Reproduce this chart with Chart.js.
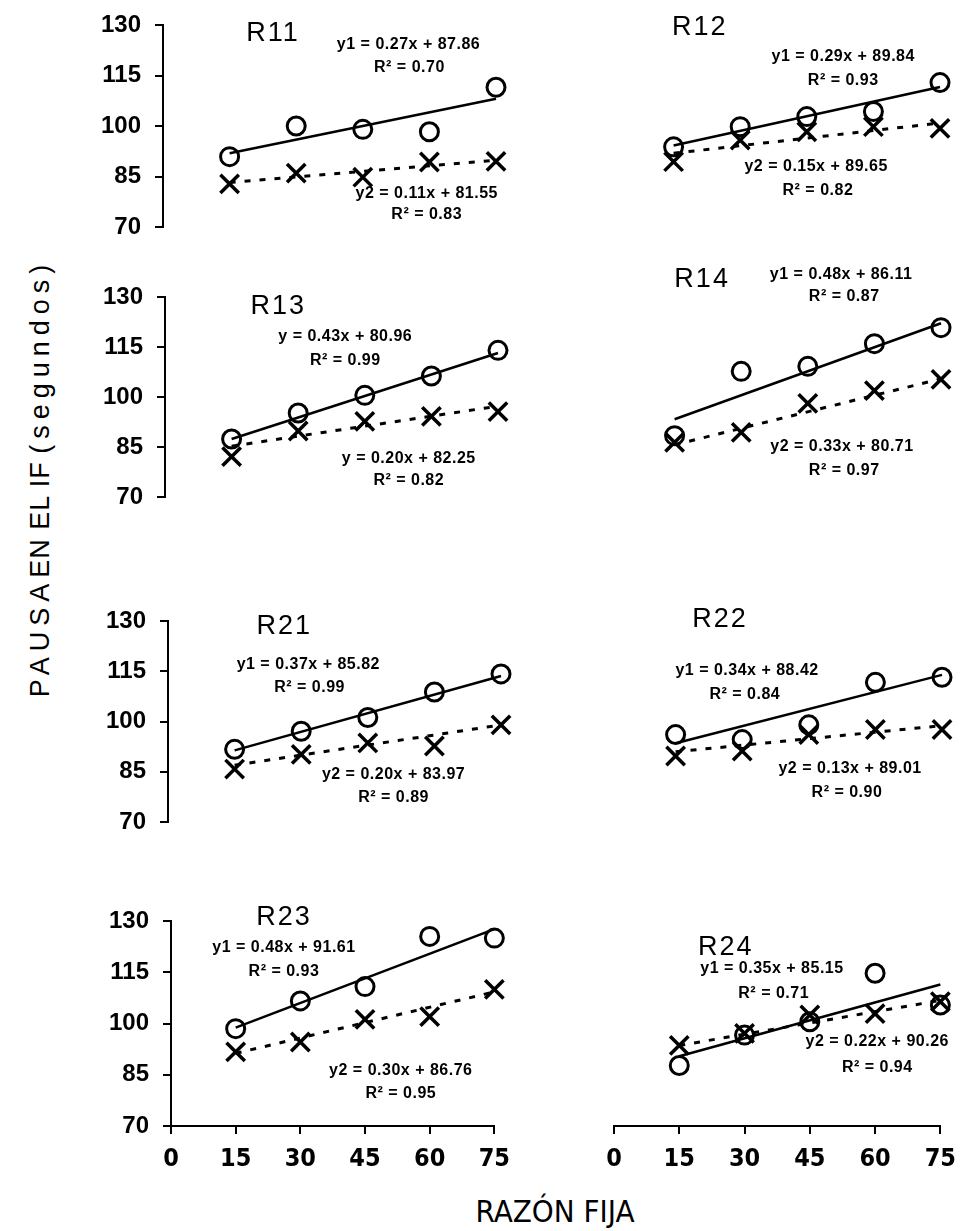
<!DOCTYPE html>
<html>
<head>
<meta charset="utf-8">
<script src="https://cdn.jsdelivr.net/npm/chart.js@4.4.1/dist/chart.umd.min.js"></script>
<style>
  body { margin: 0; background: #fff; }
  #page { position: relative; width: 966px; height: 1231px; overflow: hidden; background: #fff; }
  #page canvas { position: absolute; }
  #ytitle {
    position: absolute; left: 40px; top: 478px;
    transform: translate(-50%, -50%) rotate(-90deg);
    white-space: nowrap; font: 27px "Liberation Sans", Arial, sans-serif; color: #000;
  }
  #ytitle .wide { letter-spacing: 6px; }
  #ytitle .mid { letter-spacing: 1px; }
  #xtitle {
    position: absolute; left: 555px; top: 1193px; transform: translateX(-50%);
    white-space: nowrap; font: 31px "Liberation Sans Narrow", "DejaVu Sans Condensed", Arial, sans-serif; color: #000;
  }
</style>
</head>
<body>
<div id="page">
  <div id="ytitle"><span class="wide">PAUSA</span><span class="mid">EN EL IF</span> <span class="wide">(segundos)</span></div>
  <div id="xtitle">RAZÓN FIJA</div>
</div>
<script>
// Data
const xValues = [15, 30, 45, 60, 75];
const xTicks = [0, 15, 30, 45, 60, 75];
const yTicks = [70, 85, 100, 115, 130];
const panelNames = ['R11', 'R12', 'R13', 'R14', 'R21', 'R22', 'R23', 'R24'];

// circles = series 1, crosses = series 2
const r11Circles = [90.9, 100.0, 99.0, 98.3, 111.5];
const r11Crosses = [82.8, 86.0, 84.8, 89.3, 89.5];
const r12Circles = [93.8, 99.8, 102.8, 104.3, 112.9];
const r12Crosses = [89.4, 95.8, 98.3, 99.8, 99.3];
const r13Circles = [87.4, 95.2, 100.5, 106.3, 114.0];
const r13Crosses = [82.1, 89.8, 92.7, 94.2, 95.6];
const r14Circles = [88.4, 107.7, 109.2, 116.0, 120.8];
const r14Crosses = [86.4, 89.4, 98.1, 101.9, 105.3];
const r21Circles = [91.7, 97.1, 101.2, 108.8, 114.2];
const r21Crosses = [85.8, 90.2, 93.6, 92.7, 99.0];
const r22Circles = [96.1, 94.6, 99.0, 111.7, 113.2];
const r22Crosses = [89.7, 91.2, 96.1, 97.6, 97.6];
const r23Circles = [98.5, 106.6, 110.8, 125.5, 125.0];
const r23Crosses = [91.7, 94.6, 101.2, 102.0, 110.0];
const r24Circles = [87.7, 96.6, 100.5, 114.7, 105.4];
const r24Crosses = [93.6, 97.1, 102.5, 102.9, 106.4];

const circleSeries = [r11Circles, r12Circles, r13Circles, r14Circles, r21Circles, r22Circles, r23Circles, r24Circles];
const crossSeries = [r11Crosses, r12Crosses, r13Crosses, r14Crosses, r21Crosses, r22Crosses, r23Crosses, r24Crosses];

// fitted lines printed on each panel
const y1Name = ['y1', 'y1', 'y', 'y1', 'y1', 'y1', 'y1', 'y1'];
const y1Slope = [0.27, 0.29, 0.43, 0.48, 0.37, 0.34, 0.48, 0.35];
const y1Intercept = [87.86, 89.84, 80.96, 86.11, 85.82, 88.42, 91.61, 85.15];
const y1R2 = ['0.70', '0.93', '0.99', '0.87', '0.99', '0.84', '0.93', '0.71'];
const y2Name = ['y2', 'y2', 'y', 'y2', 'y2', 'y2', 'y2', 'y2'];
const y2Slope = [0.11, 0.15, 0.20, 0.33, 0.20, 0.13, 0.30, 0.22];
const y2Intercept = [81.55, 89.65, 82.25, 80.71, 83.97, 89.01, 86.76, 90.26];
const y2R2 = ['0.83', '0.82', '0.82', '0.97', '0.89', '0.90', '0.95', '0.94'];

// Layout (pixels) -----------------------------------------------------
const rowTop = [25, 297, 621, 921];      // pixel of 130
const rowBottom = [227, 497, 822, 1126]; // pixel of 70
const leftAxisX = [163, 165, 168, 171];
const rightAxisX = [607, 608, 609, 614];
const plotWidth = 333;

// where the texts sit, in data units of each panel
const labelPos = [
  { title: [24.8, 127.6], eq1: [55.3, 124.1], r1: [55.5, 117.2], eq2: [59.4, 80.0], r2: [59.4, 73.6] },
  { title: [20.9, 129.1], eq1: [53.2, 120.6], r1: [53.2, 113.6], eq2: [47.1, 87.9], r2: [47.5, 80.8] },
  { title: [25.5, 127.1], eq1: [40.6, 118.0], r1: [40.6, 111.0], eq2: [54.9, 81.6], r2: [54.9, 74.8] },
  { title: [21.2, 135.3], eq1: [52.5, 136.8], r1: [53.2, 130.0], eq2: [52.7, 85.0], r2: [53.2, 77.9] },
  { title: [26.2, 128.4], eq1: [31.6, 117.1], r1: [31.9, 110.0], eq2: [50.8, 84.3], r2: [50.8, 77.3] },
  { title: [25.0, 130.3], eq1: [31.1, 115.2], r1: [30.6, 108.0], eq2: [54.3, 85.8], r2: [53.6, 78.9] },
  { title: [26.2, 130.9], eq1: [26.2, 122.1], r1: [26.2, 115.2], eq2: [53.3, 86.3], r2: [53.3, 79.4] },
  { title: [25.7, 122.1], eq1: [36.3, 116.2], r1: [36.7, 108.8], eq2: [60.5, 94.6], r2: [60.5, 87.0] },
];

const sans = '"Liberation Sans", Arial, sans-serif';
const narrow = '"Liberation Sans Narrow", "DejaVu Sans Condensed", Arial, sans-serif';

const textPlugin = {
  id: 'panelText',
  afterDatasetsDraw(chart, args, opts) {
    const { ctx, scales } = chart;
    ctx.save();
    ctx.fillStyle = '#000';
    ctx.textAlign = 'center';
    ctx.textBaseline = 'middle';
    opts.items.forEach(it => {
      ctx.font = it.font;
      ctx.letterSpacing = it.spacing || '0px';
      ctx.fillText(it.text, scales.x.getPixelForValue(it.pos[0]), scales.y.getPixelForValue(it.pos[1]));
    });
    ctx.restore();
  }
};

const page = document.getElementById('page');
const padTop = 40, padBottom = 40, xAxisHeight = 62;

panelNames.forEach((name, i) => {
  const row = Math.floor(i / 2);
  const isLeft = i % 2 === 0;
  const isBottom = row === 3;

  const canvasLeft = isLeft ? 0 : 560;
  const canvasWidth = isLeft ? 520 : 406;
  const areaLeft = isLeft ? leftAxisX[row] : rightAxisX[row];
  const padRight = canvasLeft + canvasWidth - (areaLeft + plotWidth);
  const canvasTop = rowTop[row] - padTop;
  const canvasHeight = (rowBottom[row] - rowTop[row]) + padTop + (isBottom ? xAxisHeight : padBottom);

  const canvas = document.createElement('canvas');
  canvas.width = canvasWidth;
  canvas.height = canvasHeight;
  canvas.style.left = canvasLeft + 'px';
  canvas.style.top = canvasTop + 'px';
  page.appendChild(canvas);

  const fit1 = [15, 75].map(x => ({ x, y: y1Slope[i] * x + y1Intercept[i] }));
  const fit2 = [15, 75].map(x => ({ x, y: y2Slope[i] * x + y2Intercept[i] }));
  const pos = labelPos[i];
  const eqFont = 'bold 16px ' + sans;
  const eqSpace = '0.5px';

  new Chart(canvas, {
    type: 'scatter',
    data: {
      datasets: [
        {
          data: fit2, showLine: true, borderColor: '#000', borderWidth: 3,
          borderDash: [6, 9], pointRadius: 0, clip: false
        },
        {
          data: fit1, showLine: true, borderColor: '#000', borderWidth: 2.5,
          pointRadius: 0, clip: false
        },
        {
          data: xValues.map((x, k) => ({ x, y: crossSeries[i][k] })),
          pointStyle: 'crossRot', pointRadius: 13, borderColor: '#000', borderWidth: 3.5,
          backgroundColor: '#000', clip: false
        },
        {
          data: xValues.map((x, k) => ({ x, y: circleSeries[i][k] })),
          pointStyle: 'circle', pointRadius: 9, borderColor: '#000', borderWidth: 3,
          backgroundColor: 'rgba(0,0,0,0)', clip: false
        }
      ]
    },
    options: {
      responsive: false,
      animation: false,
      devicePixelRatio: 1,
      layout: {
        padding: {
          left: isLeft ? 0 : areaLeft - canvasLeft,
          right: padRight,
          top: padTop,
          bottom: isBottom ? 0 : padBottom
        }
      },
      plugins: {
        legend: { display: false },
        tooltip: { enabled: false },
        panelText: {
          items: [
            { text: name, pos: pos.title, font: '27px ' + sans, spacing: '2px' },
            { text: `${y1Name[i]} = ${y1Slope[i].toFixed(2)}x + ${y1Intercept[i].toFixed(2)}`, pos: pos.eq1, font: eqFont, spacing: eqSpace },
            { text: `R² = ${y1R2[i]}`, pos: pos.r1, font: eqFont, spacing: eqSpace },
            { text: `${y2Name[i]} = ${y2Slope[i].toFixed(2)}x + ${y2Intercept[i].toFixed(2)}`, pos: pos.eq2, font: eqFont, spacing: eqSpace },
            { text: `R² = ${y2R2[i]}`, pos: pos.r2, font: eqFont, spacing: eqSpace }
          ]
        }
      },
      scales: {
        x: {
          type: 'linear', min: 0, max: 75,
          display: isBottom,
          afterBuildTicks: s => { s.ticks = xTicks.map(v => ({ value: v })); },
          afterFit: s => { if (isBottom) s.height = xAxisHeight; },
          grid: { drawOnChartArea: false, color: '#000', lineWidth: 2, tickLength: 8 },
          border: { color: '#000', width: 2 },
          ticks: { color: '#000', padding: 10, maxRotation: 0, font: { family: narrow, size: 25, weight: 'bold' } }
        },
        y: {
          min: 70, max: 130,
          display: isLeft,
          afterBuildTicks: s => { s.ticks = yTicks.map(v => ({ value: v })); },
          afterFit: s => { if (isLeft) s.width = areaLeft; },
          grid: { drawOnChartArea: false, color: '#000', lineWidth: 2, tickLength: 8 },
          border: { color: '#000', width: 2 },
          ticks: { color: '#000', padding: 14, font: { family: sans, size: 24, weight: 'bold' } }
        }
      }
    },
    plugins: [textPlugin]
  });
});
</script>
</body>
</html>
